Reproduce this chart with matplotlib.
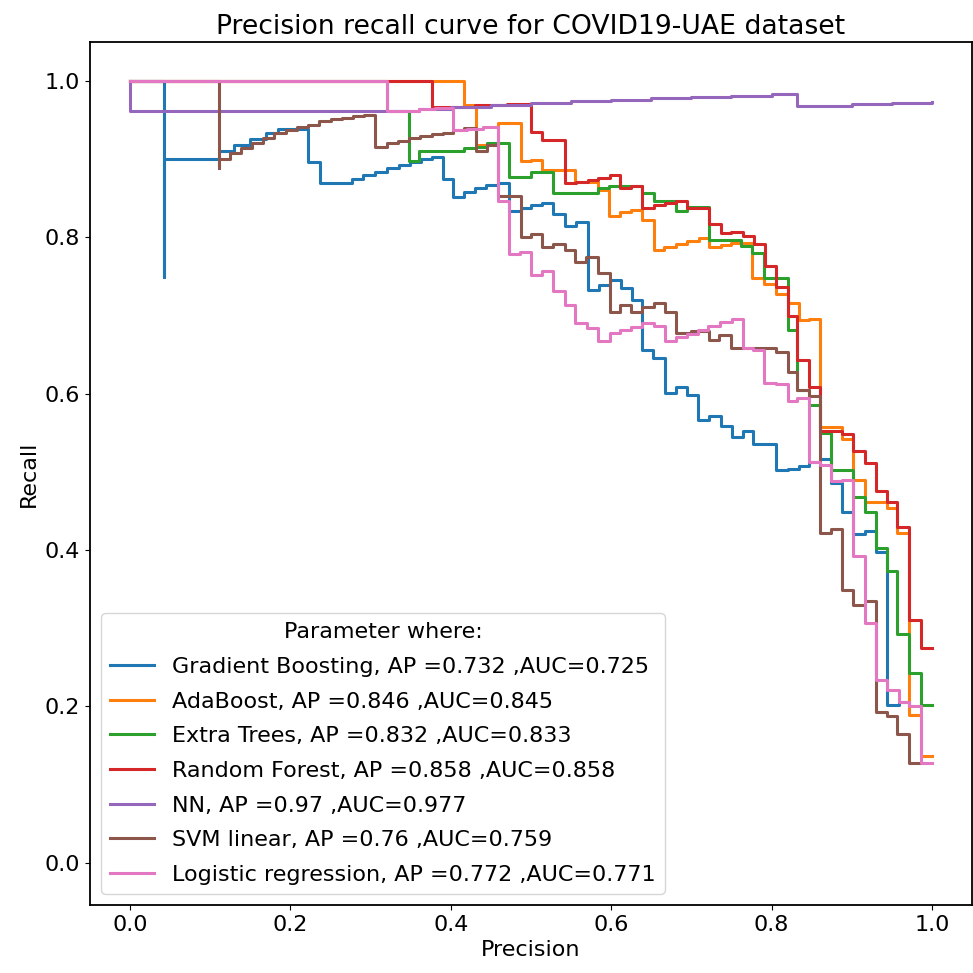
import matplotlib
matplotlib.use('Agg')
import matplotlib.pyplot as plt

# legend info
models = ['Gradient Boosting', 'AdaBoost', 'Extra Trees', 'Random Forest',
          'NN', 'SVM linear', 'Logistic regression']
ap = ['0.732', '0.846', '0.832', '0.858', '0.97', '0.76', '0.772']
auc = ['0.725', '0.845', '0.833', '0.858', '0.977', '0.759', '0.771']

# step vertices (precision on x, recall on y)
gb_prec = [0, 0.042, 0.042, 0.111, 0.13, 0.15, 0.17, 0.185, 0.222, 0.237,
           0.277, 0.291, 0.306, 0.320, 0.335, 0.349, 0.363, 0.377, 0.390, 0.403,
           0.417, 0.430, 0.444, 0.459, 0.472, 0.488, 0.500, 0.514, 0.527, 0.542,
           0.556, 0.571, 0.585, 0.598, 0.612, 0.626, 0.638, 0.652, 0.667, 0.681,
           0.695, 0.708, 0.722, 0.737, 0.751, 0.764, 0.777, 0.805, 0.820, 0.834,
           0.847, 0.861, 0.874, 0.888, 0.902, 0.917, 0.930, 0.944, 0.959, 0.972]
gb_rec = [1.0, 0.749, 0.900, 0.910, 0.918, 0.926, 0.933, 0.938, 0.896, 0.869,
          0.874, 0.880, 0.884, 0.888, 0.892, 0.896, 0.900, 0.903, 0.874, 0.852,
          0.858, 0.863, 0.867, 0.870, 0.833, 0.838, 0.841, 0.844, 0.830, 0.814,
          0.819, 0.733, 0.739, 0.745, 0.735, 0.720, 0.656, 0.645, 0.601, 0.608,
          0.598, 0.566, 0.571, 0.558, 0.545, 0.552, 0.535, 0.502, 0.503, 0.508,
          0.513, 0.516, 0.486, 0.449, 0.421, 0.424, 0.398, 0.202, 0.205, 0.205]

ada_prec = [0, 0.417, 0.431, 0.459, 0.487, 0.500, 0.514, 0.555, 0.583, 0.597,
            0.611, 0.625, 0.639, 0.653, 0.666, 0.681, 0.695, 0.710, 0.722, 0.737,
            0.750, 0.776, 0.791, 0.806, 0.820, 0.834, 0.847, 0.861, 0.874, 0.888,
            0.902, 0.917, 0.944, 0.957, 0.971, 0.986, 1.0]
ada_rec = [1.0, 0.969, 0.918, 0.946, 0.897, 0.899, 0.886, 0.871, 0.861, 0.827,
           0.832, 0.835, 0.822, 0.784, 0.788, 0.792, 0.795, 0.799, 0.788, 0.790,
           0.793, 0.748, 0.740, 0.728, 0.716, 0.694, 0.696, 0.557, 0.557, 0.542,
           0.490, 0.462, 0.454, 0.422, 0.189, 0.136, 0.136]

et_prec = [0, 0.32, 0.348, 0.360, 0.417, 0.431, 0.445, 0.472, 0.500, 0.527,
           0.583, 0.597, 0.639, 0.654, 0.681, 0.695, 0.722, 0.762, 0.776, 0.791,
           0.820, 0.832, 0.847, 0.861, 0.874, 0.902, 0.917, 0.930, 0.944, 0.957,
           0.971, 0.986, 1.0]
et_rec = [1.0, 0.962, 0.897, 0.910, 0.914, 0.916, 0.920, 0.877, 0.884, 0.857,
          0.863, 0.865, 0.856, 0.846, 0.833, 0.839, 0.797, 0.789, 0.780, 0.748,
          0.682, 0.605, 0.586, 0.550, 0.502, 0.468, 0.449, 0.402, 0.373, 0.292,
          0.243, 0.202, 0.202]

rf_prec = [0, 0.376, 0.43, 0.47, 0.500, 0.514, 0.542, 0.556, 0.571, 0.584,
           0.598, 0.611, 0.625, 0.639, 0.654, 0.667, 0.681, 0.695, 0.722, 0.737,
           0.750, 0.764, 0.778, 0.792, 0.806, 0.820, 0.832, 0.847, 0.861, 0.888,
           0.902, 0.917, 0.930, 0.944, 0.957, 0.971, 0.986, 1.0]
rf_rec = [1.0, 0.967, 0.969, 0.971, 0.935, 0.925, 0.869, 0.871, 0.873, 0.876,
          0.880, 0.863, 0.865, 0.837, 0.841, 0.844, 0.846, 0.837, 0.817, 0.805,
          0.807, 0.801, 0.792, 0.763, 0.737, 0.699, 0.643, 0.609, 0.552, 0.548,
          0.526, 0.511, 0.475, 0.462, 0.430, 0.311, 0.275, 0.275]

nn_prec = [0, 0, 0.32, 0.36, 0.40, 0.45, 0.50, 0.55, 0.60, 0.65,
           0.70, 0.75, 0.80, 0.832, 0.90, 0.95, 1.0]
nn_rec = [1.0, 0.962, 0.962, 0.964, 0.967, 0.969, 0.972, 0.974, 0.976, 0.978,
          0.980, 0.981, 0.983, 0.968, 0.970, 0.972, 0.973]

svm_prec = [0, 0.111, 0.111, 0.124, 0.138, 0.152, 0.166, 0.180, 0.194, 0.208,
            0.222, 0.236, 0.250, 0.264, 0.278, 0.292, 0.306, 0.320, 0.334, 0.348,
            0.362, 0.376, 0.390, 0.403, 0.417, 0.431, 0.445, 0.459, 0.487, 0.500,
            0.514, 0.528, 0.542, 0.555, 0.569, 0.584, 0.598, 0.611, 0.625, 0.638,
            0.653, 0.667, 0.681, 0.700, 0.722, 0.735, 0.749, 0.805, 0.820, 0.832,
            0.847, 0.861, 0.874, 0.888, 0.902, 0.917, 0.930, 0.944, 0.957, 0.972,
            0.986]
svm_rec = [1.0, 0.888, 0.900, 0.908, 0.914, 0.920, 0.927, 0.933, 0.937, 0.941,
           0.944, 0.949, 0.951, 0.953, 0.955, 0.957, 0.916, 0.920, 0.923, 0.927,
           0.929, 0.932, 0.934, 0.937, 0.940, 0.911, 0.918, 0.853, 0.800, 0.804,
           0.788, 0.792, 0.784, 0.769, 0.775, 0.754, 0.705, 0.714, 0.705, 0.711,
           0.716, 0.705, 0.677, 0.680, 0.669, 0.675, 0.658, 0.653, 0.628, 0.605,
           0.597, 0.422, 0.427, 0.349, 0.330, 0.335, 0.193, 0.188, 0.165, 0.127,
           0.127]

lr_prec = [0, 0.32, 0.36, 0.38, 0.403, 0.42, 0.44, 0.459, 0.472, 0.486,
           0.500, 0.514, 0.527, 0.542, 0.555, 0.570, 0.583, 0.598, 0.611, 0.625,
           0.638, 0.653, 0.667, 0.681, 0.695, 0.708, 0.721, 0.736, 0.751, 0.764,
           0.777, 0.791, 0.805, 0.820, 0.832, 0.847, 0.861, 0.874, 0.888, 0.902,
           0.917, 0.930, 0.944, 0.959, 0.972, 0.986, 1.0]
lr_rec = [1.0, 0.961, 0.964, 0.966, 0.937, 0.939, 0.941, 0.846, 0.778, 0.781,
          0.752, 0.757, 0.731, 0.714, 0.690, 0.684, 0.667, 0.677, 0.682, 0.685,
          0.690, 0.686, 0.667, 0.673, 0.676, 0.681, 0.686, 0.691, 0.696, 0.658,
          0.656, 0.613, 0.612, 0.590, 0.594, 0.513, 0.509, 0.488, 0.490, 0.392,
          0.307, 0.234, 0.221, 0.206, 0.200, 0.128, 0.128]

curves = [(gb_prec, gb_rec), (ada_prec, ada_rec), (et_prec, et_rec),
          (rf_prec, rf_rec), (nn_prec, nn_rec), (svm_prec, svm_rec),
          (lr_prec, lr_rec)]

plt.rcParams['font.size'] = 16
fig = plt.figure(figsize=(9.73, 9.73), dpi=100)
ax = fig.add_axes([0.0925, 0.07, 0.9065, 0.887])

for i, (p, r) in enumerate(curves):
    ax.plot(p, r, drawstyle='steps-post', lw=2.2, color=f'C{i}',
            label=f'{models[i]}, AP ={ap[i]} ,AUC={auc[i]}')

ax.set_xlim(-0.05, 1.05)
ax.set_ylim(-0.054, 1.05)
ax.set_title('Precision recall curve for COVID19-UAE dataset')
ax.set_xlabel('Precision')
ax.set_ylabel('Recall')
for s in ax.spines.values():
    s.set_linewidth(1.3)
ax.legend(title='Parameter where:', loc='lower left', title_fontsize=16,
          labelspacing=0.66)

plt.savefig('out.png')
plt.close()
